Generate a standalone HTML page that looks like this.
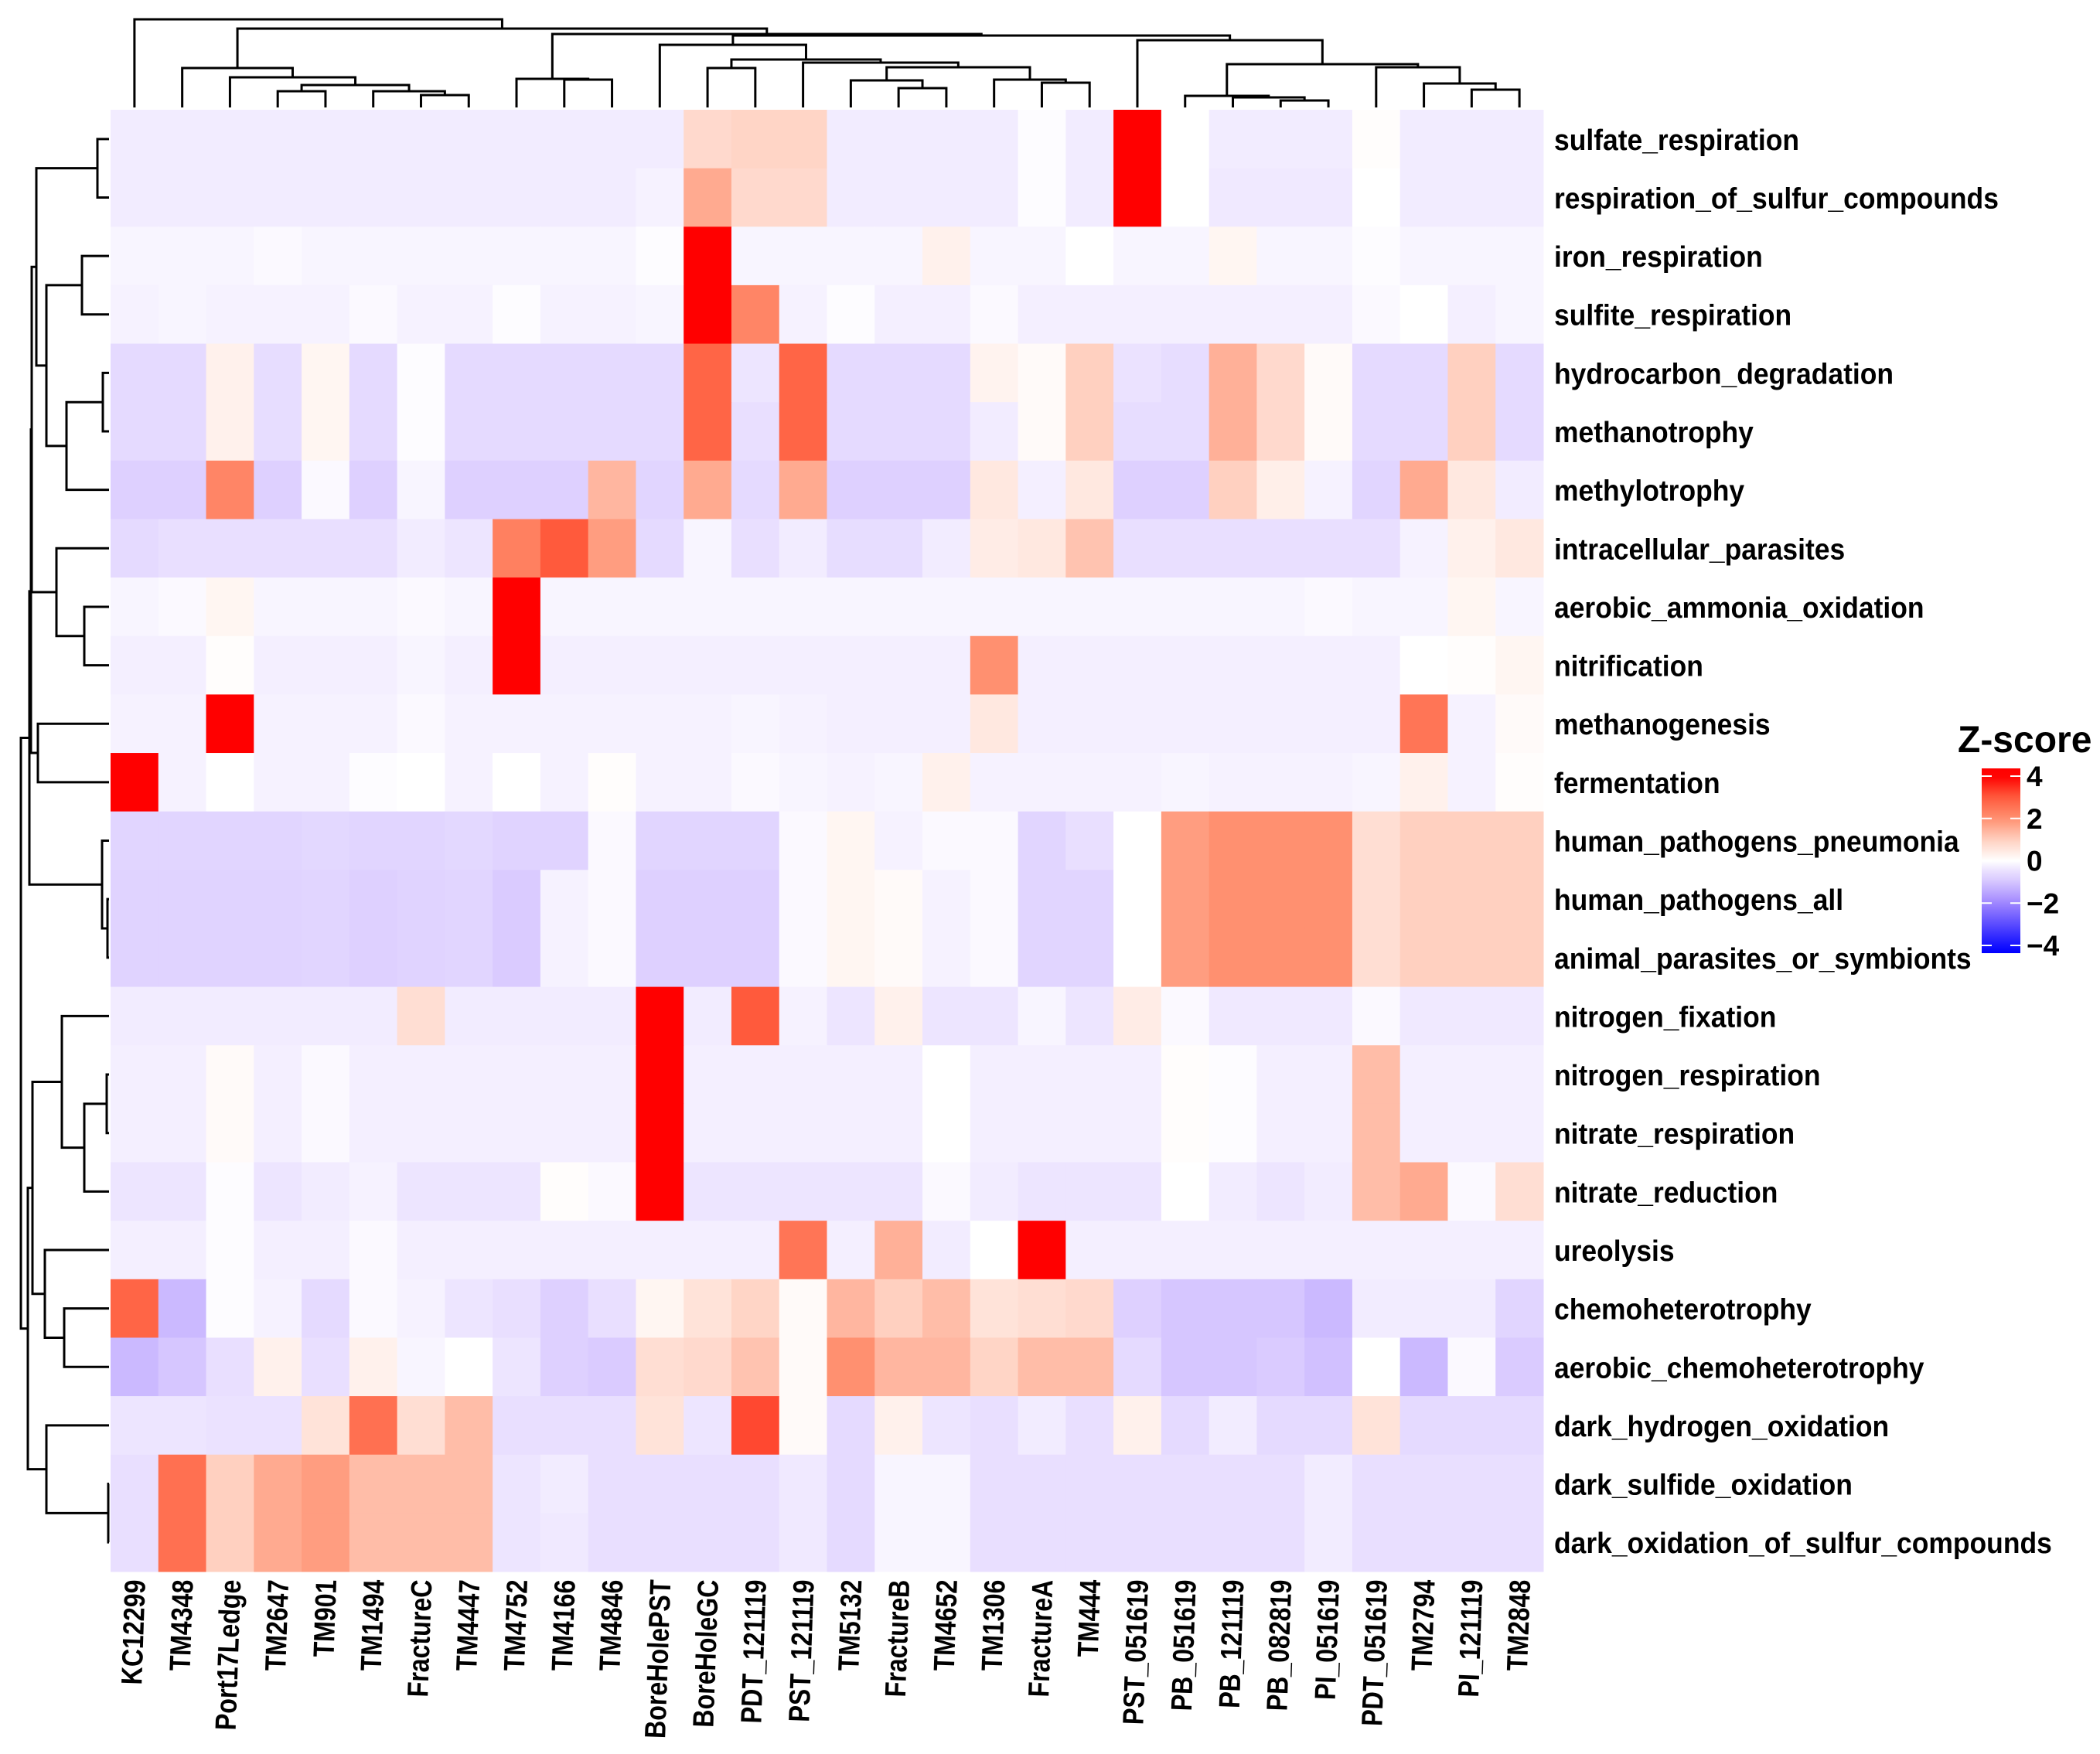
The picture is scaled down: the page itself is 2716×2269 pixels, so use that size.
<!DOCTYPE html>
<html><head><meta charset="utf-8"><style>
html,body{margin:0;padding:0;background:#fff;}
svg{display:block;}
text{font-family:"Liberation Sans Narrow","Liberation Sans",sans-serif;font-weight:bold;fill:#000;}
</style></head><body>
<svg id="chart" width="2716" height="2269" viewBox="0 0 2716 2269">
<g id="cells"></g>
<g id="coldend"></g>
<g id="rowdend"></g>
<g id="rowlabels"></g>
<g id="collabels"></g>
<g id="legend"></g>
</svg>
<script>
const columns = ["KC12299","TM4348","Port17Ledge","TM2647","TM901","TM1494","FractureC","TM4447","TM4752","TM4166","TM4846","BoreHolePST","BoreHoleGC","PDT_121119","PST_121119","TM5132","FractureB","TM4652","TM1306","FractureA","TM444","PST_051619","PB_051619","PB_121119","PB_082819","PI_051619","PDT_051619","TM2794","PI_121119","TM2848"];
const rows = ["sulfate_respiration","respiration_of_sulfur_compounds","iron_respiration","sulfite_respiration","hydrocarbon_degradation","methanotrophy","methylotrophy","intracellular_parasites","aerobic_ammonia_oxidation","nitrification","methanogenesis","fermentation","human_pathogens_pneumonia","human_pathogens_all","animal_parasites_or_symbionts","nitrogen_fixation","nitrogen_respiration","nitrate_respiration","nitrate_reduction","ureolysis","chemoheterotrophy","aerobic_chemoheterotrophy","dark_hydrogen_oxidation","dark_sulfide_oxidation","dark_oxidation_of_sulfur_compounds"];
const zRow0 = [-0.3,-0.3,-0.3,-0.3,-0.3,-0.3,-0.3,-0.3,-0.3,-0.3,-0.3,-0.3,0.8,0.9,0.9,-0.3,-0.3,-0.3,-0.3,-0.05,-0.3,4.5,0,-0.3,-0.3,-0.3,0.05,-0.3,-0.3,-0.3];
const zRow1 = [-0.3,-0.3,-0.3,-0.3,-0.3,-0.3,-0.3,-0.3,-0.3,-0.3,-0.3,-0.2,1.6,0.8,0.8,-0.3,-0.3,-0.3,-0.3,-0.05,-0.3,4.5,0,-0.35,-0.35,-0.35,0,-0.3,-0.3,-0.3];
const zRow2 = [-0.15,-0.15,-0.15,-0.1,-0.15,-0.15,-0.15,-0.15,-0.15,-0.15,-0.15,-0.05,4.5,-0.15,-0.15,-0.15,-0.15,0.3,-0.15,-0.15,0,-0.15,-0.15,0.2,-0.15,-0.15,-0.05,-0.15,-0.15,-0.15];
const zRow3 = [-0.2,-0.15,-0.2,-0.2,-0.2,-0.1,-0.2,-0.2,-0.05,-0.2,-0.2,-0.15,4.5,2.2,-0.2,-0.05,-0.25,-0.25,-0.1,-0.25,-0.25,-0.25,-0.25,-0.25,-0.25,-0.25,-0.1,0,-0.25,-0.15];
const zRow4 = [-0.6,-0.6,0.3,-0.55,0.2,-0.6,-0.05,-0.6,-0.6,-0.6,-0.6,-0.6,2.8,-0.4,2.8,-0.6,-0.6,-0.6,0.25,0.1,1.0,-0.45,-0.55,1.5,0.8,0.1,-0.6,-0.6,1.0,-0.6];
const zRow5 = [-0.6,-0.6,0.3,-0.55,0.2,-0.6,-0.05,-0.6,-0.6,-0.6,-0.6,-0.6,2.8,-0.5,2.8,-0.6,-0.6,-0.6,-0.3,0.1,1.0,-0.55,-0.55,1.5,0.8,0.1,-0.6,-0.6,1.0,-0.6];
const zRow6 = [-0.8,-0.8,2.2,-0.8,-0.1,-0.8,-0.15,-0.8,-0.8,-0.8,1.4,-0.7,1.6,-0.6,1.6,-0.8,-0.8,-0.8,0.5,-0.25,0.5,-0.8,-0.8,1.0,0.35,-0.2,-0.7,1.6,0.5,-0.3];
const zRow7 = [-0.6,-0.5,-0.5,-0.5,-0.5,-0.5,-0.3,-0.4,2.3,3.0,1.8,-0.6,-0.15,-0.5,-0.3,-0.55,-0.55,-0.3,0.4,0.5,1.2,-0.5,-0.5,-0.5,-0.5,-0.5,-0.5,-0.2,0.3,0.5];
const zRow8 = [-0.15,-0.1,0.2,-0.15,-0.15,-0.15,-0.1,-0.15,4.5,-0.15,-0.15,-0.15,-0.15,-0.15,-0.15,-0.15,-0.15,-0.15,-0.15,-0.15,-0.15,-0.15,-0.15,-0.15,-0.15,-0.1,-0.15,-0.15,0.2,-0.15];
const zRow9 = [-0.25,-0.25,0.05,-0.25,-0.25,-0.25,-0.15,-0.25,4.5,-0.25,-0.25,-0.25,-0.25,-0.25,-0.25,-0.25,-0.25,-0.25,2.0,-0.25,-0.25,-0.25,-0.25,-0.25,-0.25,-0.25,-0.25,0,0.05,0.2];
const zRow10 = [-0.2,-0.2,4.5,-0.2,-0.2,-0.2,-0.1,-0.2,-0.2,-0.2,-0.2,-0.2,-0.2,-0.15,-0.2,-0.25,-0.25,-0.25,0.5,-0.25,-0.25,-0.25,-0.25,-0.25,-0.25,-0.25,-0.25,2.5,-0.2,0.1];
const zRow11 = [4.5,-0.2,0,-0.2,-0.2,-0.05,0,-0.2,0,-0.2,0.05,-0.2,-0.2,-0.1,-0.15,-0.2,-0.15,0.3,-0.2,-0.2,-0.2,-0.2,-0.15,-0.2,-0.2,-0.2,-0.15,0.3,-0.2,0.05];
const zRow12 = [-0.7,-0.7,-0.7,-0.7,-0.65,-0.7,-0.7,-0.65,-0.75,-0.75,-0.1,-0.7,-0.7,-0.7,-0.1,0.2,-0.2,-0.1,-0.1,-0.7,-0.5,0,1.8,2.0,2.0,2.0,0.7,1.0,1.0,1.0];
const zRow13 = [-0.75,-0.75,-0.75,-0.75,-0.7,-0.8,-0.75,-0.7,-0.9,-0.2,-0.1,-0.8,-0.8,-0.8,-0.1,0.2,0.1,-0.2,-0.1,-0.7,-0.7,0,1.8,2.0,2.0,2.0,0.7,1.0,1.0,1.0];
const zRow14 = [-0.75,-0.75,-0.75,-0.75,-0.7,-0.8,-0.75,-0.7,-0.9,-0.2,-0.1,-0.8,-0.8,-0.8,-0.1,0.2,0.1,-0.2,-0.1,-0.7,-0.7,0,1.8,2.0,2.0,2.0,0.7,1.0,1.0,1.0];
const zRow15 = [-0.3,-0.3,-0.3,-0.3,-0.3,-0.3,0.7,-0.3,-0.3,-0.3,-0.3,4.5,-0.3,3.0,-0.2,-0.4,0.3,-0.4,-0.4,-0.15,-0.4,0.4,-0.1,-0.35,-0.35,-0.35,-0.1,-0.35,-0.35,-0.35];
const zRow16 = [-0.25,-0.25,0.1,-0.25,-0.1,-0.25,-0.25,-0.25,-0.25,-0.25,-0.25,4.5,-0.25,-0.25,-0.25,-0.25,-0.25,0,-0.25,-0.25,-0.25,-0.25,0.05,-0.05,-0.25,-0.25,1.3,-0.25,-0.25,-0.25];
const zRow17 = [-0.25,-0.25,0.1,-0.25,-0.1,-0.25,-0.25,-0.25,-0.25,-0.25,-0.25,4.5,-0.25,-0.25,-0.25,-0.25,-0.25,0,-0.25,-0.25,-0.25,-0.25,0.05,-0.05,-0.25,-0.25,1.3,-0.25,-0.25,-0.25];
const zRow18 = [-0.4,-0.4,-0.05,-0.4,-0.3,-0.2,-0.4,-0.4,-0.4,0.05,-0.1,4.5,-0.4,-0.4,-0.4,-0.4,-0.4,-0.1,-0.3,-0.4,-0.4,-0.4,0,-0.3,-0.4,-0.3,1.3,1.6,-0.1,0.7];
const zRow19 = [-0.25,-0.25,-0.05,-0.25,-0.25,-0.1,-0.25,-0.25,-0.25,-0.25,-0.25,-0.25,-0.25,-0.25,2.5,-0.25,1.5,-0.3,0,4.5,-0.25,-0.25,-0.25,-0.25,-0.25,-0.25,-0.25,-0.25,-0.25,-0.25];
const zRow20 = [2.8,-1.2,-0.05,-0.2,-0.6,-0.1,-0.2,-0.4,-0.5,-0.8,-0.5,0.2,0.6,0.9,0.1,1.4,1.0,1.3,0.6,0.7,0.8,-0.8,-1.0,-1.0,-1.0,-1.2,-0.3,-0.3,-0.3,-0.7];
const zRow21 = [-1.2,-1.0,-0.5,0.3,-0.5,0.3,-0.15,0,-0.4,-0.8,-0.9,0.7,0.8,1.2,0.1,2.0,1.4,1.4,0.9,1.3,1.3,-0.6,-1.0,-1.0,-0.9,-1.1,0,-1.2,-0.1,-0.9];
const zRow22 = [-0.4,-0.4,-0.45,-0.45,0.6,2.6,0.7,1.3,-0.5,-0.5,-0.5,0.6,-0.4,3.2,0.1,-0.6,0.3,-0.4,-0.5,-0.3,-0.5,0.3,-0.6,-0.3,-0.6,-0.6,0.6,-0.6,-0.6,-0.6];
const zRow23 = [-0.5,2.6,1.0,1.6,1.8,1.3,1.3,1.3,-0.4,-0.3,-0.5,-0.5,-0.5,-0.5,-0.35,-0.6,-0.15,-0.15,-0.5,-0.5,-0.5,-0.5,-0.5,-0.5,-0.5,-0.3,-0.5,-0.5,-0.5,-0.5];
const zRow24 = [-0.5,2.6,1.0,1.6,1.8,1.3,1.3,1.3,-0.4,-0.35,-0.5,-0.5,-0.5,-0.5,-0.35,-0.6,-0.15,-0.15,-0.5,-0.5,-0.5,-0.5,-0.5,-0.5,-0.5,-0.3,-0.5,-0.5,-0.5,-0.5];
const zValues = [zRow0,zRow1,zRow2,zRow3,zRow4,zRow5,zRow6,zRow7,zRow8,zRow9,zRow10,zRow11,zRow12,zRow13,zRow14,zRow15,zRow16,zRow17,zRow18,zRow19,zRow20,zRow21,zRow22,zRow23,zRow24];
const legendTicks = [4,2,0,-2,-4];
const legendTickLabels = ["4","2","0","\u22122","\u22124"];

const cA3 = [[3,4,118],[5,[6,7,123],118],110];
const cA = [1,[2,cA3,100],88];
const cC8 = [8,[9,10,103],102];
const cN87 = [[15,[16,17,114],104],[18,[19,20,107],103],87];
const cN77 = [[12,13,88],[14,cN87,81],77];
const cB11 = [11,cN77,58];
const cN83 = [[22,[23,[24,25,130],126],124],[26,[27,[28,29,116],108],87],83];
const cD = [21,cN83,52];
const cP = [cC8,[cB11,cD,46],44];
const colTree = [0,[cA,cP,37],25];

const rR06 = [[0,1,126],[[2,3,106],[[4,5,133],6,86],60],47];
const rNa = [rR06,[7,[8,9,109],73],41];
const rNb = [rNa,[10,11,49],40];
const rU = [rNb,[12,[13,14,139],132],38];
const rL = [[[15,[[16,17,138],18,109],80],[19,[20,21,83],58],42],[22,[23,24,140],60],36];
const rowTree = [rU,rL,27];

const NS="http://www.w3.org/2000/svg";
const X0=143, X1=1996, Y0=142, Y1=2033;
const cw=(X1-X0)/columns.length, rh=(Y1-Y0)/rows.length;
const xCol=i=>X0+cw*i, xC=i=>X0+cw*(i+0.5);
const yRow=r=>Y0+rh*r, yC=r=>Y0+rh*(r+0.5);

const stops=[[-4.3,[0,0,255]],[-2,[160,134,255]],[-1,[214,198,255]],[-0.5,[233,223,255]],[0,[255,255,255]],[1,[255,208,192]],[2,[255,144,112]],[3,[255,90,60]],[4,[255,0,0]]];
function color(v){
  if(v<=stops[0][0]) return "rgb(0,0,255)";
  for(let k=1;k<stops.length;k++){
    if(v<=stops[k][0]){const a=stops[k-1],b=stops[k];const t=(v-a[0])/(b[0]-a[0]);
      return "rgb("+a[1].map((c,j)=>Math.round(c+(b[1][j]-c)*t)).join(",")+")";}
  }
  return "rgb(255,0,0)";
}
function mk(tag,attrs,parent){const e=document.createElementNS(NS,tag);for(const k in attrs)e.setAttribute(k,attrs[k]);parent.appendChild(e);return e;}

const gCells=document.getElementById("cells");
zValues.forEach((row,r)=>row.forEach((v,c)=>{
  const e=mk("rect",{x:xCol(c),y:yRow(r),width:cw+0.5,height:rh+0.5,fill:color(v)},gCells);
  
  
}));

const gCD=document.getElementById("coldend");
function drawCol(n){ if(typeof n==="number") return {x:xC(n),y:139};
  const a=drawCol(n[0]),b=drawCol(n[1]),h=n[2];
  const p=mk("path",{d:"M"+a.x+","+a.y+"V"+h+"H"+b.x+"V"+b.y,fill:"none",stroke:"#000","stroke-width":3},gCD);
  
  
  return {x:(a.x+b.x)/2,y:h};}
drawCol(colTree);

const gRD=document.getElementById("rowdend");
function drawRow(n){ if(typeof n==="number") return {x:141,y:yC(n)};
  const a=drawRow(n[0]),b=drawRow(n[1]),h=n[2];
  const p=mk("path",{d:"M"+a.x+","+a.y+"H"+h+"V"+b.y+"H"+b.x,fill:"none",stroke:"#000","stroke-width":3},gRD);
  
  
  return {x:h,y:(a.y+b.y)/2};}
drawRow(rowTree);

const gRL=document.getElementById("rowlabels");
const rowEls=rows.map((name,r)=>{const t=mk("text",{x:0,y:0,"font-size":38},gRL);t.textContent=name;
  
  
  return t;});
let maxW=0;
rowEls.forEach(t=>{let w=0;try{w=t.getComputedTextLength();}catch(e){}maxW=Math.max(maxW,w);});
const sR=maxW>0?644/maxW:1;
rowEls.forEach((t,r)=>t.setAttribute("transform","translate(2010,"+(yC(r)+14)+") scale("+sR+",1)"));

const gCL=document.getElementById("collabels");
const colEls=columns.map((name,i)=>{const t=mk("text",{x:0,y:0,"font-size":38,"text-anchor":"end",style:"font-family:'Liberation Sans',sans-serif"},gCL);t.textContent=name;
  
  
  return t;});
let pw=0;
colEls.forEach((t,i)=>{if(columns[i]==="PI_121119"){try{pw=t.getComputedTextLength();}catch(e){}}});
const sC=pw>0?152/pw:1;
colEls.forEach((t,i)=>t.setAttribute("transform","translate("+(xC(i)+14)+",2044) rotate(-88) scale("+sC+",1)"));

const gL=document.getElementById("legend");
const lt=mk("text",{x:2532,y:973,"font-size":48,style:"font-family:'Liberation Sans',sans-serif"},gL);lt.textContent="Z-score";


const defs=mk("defs",{},gL);
const lg=mk("linearGradient",{id:"zg",x1:0,y1:1,x2:0,y2:0},defs);
const LB=994,LT=1233;
const vAt=y=>4+(1004-y)*(8/(1223-1004));
for(let k=0;k<=20;k++){const y=LT-(LT-LB)*k/20;mk("stop",{offset:k/20,"stop-color":color(vAt(y))},lg);}
const bar=mk("rect",{x:2563,y:LB,width:50,height:LT-LB,fill:"url(#zg)"},gL);


legendTicks.forEach((v,k)=>{const y=1004+(4-v)*(1223-1004)/8;
  mk("line",{x1:2563,x2:2576,y1:y,y2:y,stroke:"#fff","stroke-width":2},gL);
  mk("line",{x1:2600,x2:2613,y1:y,y2:y,stroke:"#fff","stroke-width":2},gL);
  const t=mk("text",{x:2621,y:y+13,"font-size":37,style:"font-family:'Liberation Sans',sans-serif"},gL);t.textContent=legendTickLabels[k];
  
  
});
</script>
</body></html>
